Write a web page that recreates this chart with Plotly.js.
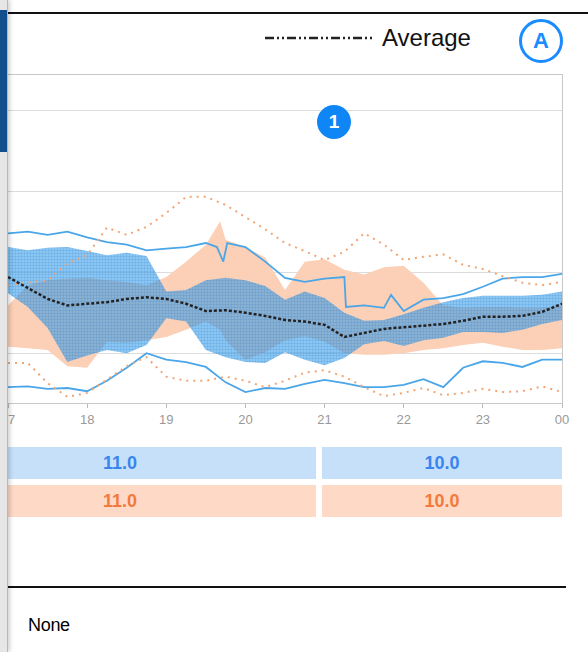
<!DOCTYPE html>
<html>
<head>
<meta charset="utf-8">
<script src="https://cdn.plot.ly/plotly-3.0.1.min.js"></script>
<style>
  html, body { margin: 0; padding: 0; background: #fff; }
  body { width: 588px; height: 652px; position: relative; overflow: hidden; font-family: "Liberation Sans", Arial, sans-serif; }
  #chart { position: absolute; left: 0; top: 0; width: 588px; height: 652px; }
  .side { position: absolute; left: 0; top: 0; width: 7px; height: 652px; background: #e6e6e6; border-right: 1px solid #b8b8b8; box-shadow: 2px 0 4px rgba(0,0,0,0.18); }
  .side-tab { position: absolute; left: 0; top: 10px; width: 7px; height: 142px; background: #11508c; }
  .topline { position: absolute; left: 8px; right: 0; top: 12px; height: 2px; background: #111; }
  .legend { position: absolute; left: 265px; top: 22px; height: 32px; display: flex; align-items: center; }
  .legend span { font-size: 24px; color: #111; margin-left: 7px; }
  .badge-a { position: absolute; left: 519px; top: 19px; width: 38px; height: 38px; border: 3px solid #1a8cff; border-radius: 50%; color: #1a8cff; font-weight: bold; font-size: 22px; text-align: center; line-height: 38px; }
  .badge-1 { position: absolute; left: 317px; top: 105px; width: 34px; height: 34px; border-radius: 50%; background: #0f86f5; color: #fff; font-weight: bold; font-size: 19px; text-align: center; line-height: 34px; }
  .cell { position: absolute; height: 32px; line-height: 32px; font-weight: bold; font-size: 18px; text-align: center; }
  .blue { background: #c6e0fa; color: #3a84ee; }
  .orange { background: #fdd9c6; color: #f27a3c; }
  .bottomline { position: absolute; left: 8px; width: 558px; top: 586px; height: 2px; background: #111; }
  .note { position: absolute; left: 28px; top: 615px; font-size: 18px; color: #000; letter-spacing: -0.3px; }
</style>
</head>
<body>
<div id="chart"></div>

<div class="topline"></div>
<div class="legend">
  <svg width="110" height="6"><line x1="0" y1="3" x2="110" y2="3" stroke="#222" stroke-width="2.5" stroke-dasharray="9,3,2,3,2,3"></line></svg>
  <span>Average</span>
</div>
<div class="badge-a">A</div>
<div class="badge-1">1</div>

<div class="cell blue" style="left:-76px; width:392px; top:447px;">11.0</div>
<div class="cell blue" style="left:322px; width:240px; top:447px;">10.0</div>
<div class="cell orange" style="left:-76px; width:392px; top:485px;">11.0</div>
<div class="cell orange" style="left:322px; width:240px; top:485px;">10.0</div>

<div class="bottomline"></div>
<div class="note">None</div>

<div class="side"></div>
<div class="side-tab"></div>

<script>
// hours of the day, 17:00 to 24:00
var hours = [17, 17.25, 17.5, 17.75, 18, 18.25, 18.5, 18.75, 19, 19.25, 19.5, 19.75, 20, 20.25, 20.5, 20.75, 21, 21.25, 21.5, 21.75, 22, 22.25, 22.5, 22.75, 23, 23.25, 23.5, 23.75, 24];
var tickHours = [17, 18, 19, 20, 21, 22, 23, 24];
var tickLabels = ['17', '18', '19', '20', '21', '22', '23', '00'];

var average = [9.5, 8.1, 6.8, 6.0, 6.2, 6.4, 6.8, 7.0, 6.8, 6.2, 5.3, 5.4, 5.1, 4.7, 4.2, 4.0, 3.6, 2.1, 2.6, 3.1, 3.3, 3.5, 3.7, 4.1, 4.6, 4.6, 4.7, 5.2, 6.2];

// blue range band
var blueUpper = [13.2, 12.8, 13.1, 13.2, 12.7, 12.2, 12.5, 12.1, 7.7, 7.9, 9.1, 9.4, 9.1, 8.4, 6.7, 7.7, 6.9, 5.1, 4.1, 4.2, 4.9, 5.7, 6.4, 6.9, 7.2, 7.2, 7.2, 7.3, 7.7];
var blueLower = [7.5, 5.8, 3.2, -1.0, -0.2, 0.5, 0.1, 1.1, 4.4, 4.0, 0.5, -0.4, -1.0, -1.1, 0.2, -0.7, -1.4, -0.5, 1.2, 1.6, 1.0, 1.7, 2.0, 2.7, 2.7, 2.6, 3.0, 3.7, 4.2];

// orange range band (one extra point for the peak)
var orangeHours = [17, 17.25, 17.5, 17.75, 18, 18.25, 18.5, 18.75, 19, 19.25, 19.5, 19.68, 19.75, 20, 20.25, 20.5, 20.75, 21, 21.25, 21.5, 21.75, 22, 22.25, 22.5, 22.75, 23, 23.25, 23.5, 23.75, 24];
var orangeUpper = [6.0, 8.5, 9.1, 9.3, 9.4, 9.1, 8.9, 8.5, 9.5, 11.4, 13.5, 16.4, 14.1, 13.2, 11.9, 7.9, 11.4, 11.7, 10.4, 9.8, 10.7, 10.9, 8.8, 6.0, 5.7, 5.8, 5.8, 5.7, 5.7, 6.0];
var orangeLower = [0.9, 0.7, 0.5, -1.5, -1.7, 1.5, 1.4, 1.7, 2.1, 3.0, 4.0, 3.0, 1.7, -0.7, 0.2, 1.7, 2.2, 1.5, 0.1, -0.1, -0.1, 0.1, 0.5, 0.7, 1.1, 1.4, 0.9, 0.5, 0.5, 0.7];

// blue max line
var maxHours = [17, 17.25, 17.5, 17.75, 18, 18.25, 18.5, 18.75, 19, 19.25, 19.5, 19.64, 19.72, 19.77, 20, 20.25, 20.5, 20.75, 21, 21.25, 21.27, 21.5, 21.75, 21.84, 22, 22.25, 22.5, 22.75, 23, 23.25, 23.5, 23.75, 24];
var blueMax = [14.9, 15.1, 14.7, 15.1, 14.4, 13.8, 13.5, 12.8, 13.0, 13.2, 13.7, 13.2, 11.4, 13.7, 13.2, 11.4, 9.4, 8.9, 9.3, 9.5, 5.8, 6.0, 5.7, 7.3, 5.3, 6.7, 6.9, 7.4, 8.3, 9.3, 9.5, 9.5, 9.9];
var blueMin = [-4.1, -4.0, -4.3, -4.2, -4.6, -3.3, -1.7, 0.1, -0.7, -1.0, -1.6, -3.5, -4.7, -4.2, -4.3, -3.7, -3.2, -3.6, -4.1, -4.1, -3.8, -3.1, -4.1, -1.7, -0.9, -1.1, -1.6, -0.7, -0.7];

// orange max / min (dotted)
var orangeMax = [8.5, 8.8, 9.1, 11.2, 12.2, 15.6, 14.7, 15.7, 17.4, 19.4, 19.4, 18.4, 16.9, 15.4, 13.7, 12.7, 11.6, 12.6, 14.9, 13.5, 11.6, 12.0, 12.3, 11.0, 10.5, 9.6, 8.8, 8.5, 8.9];
var orangeMin = [-1.1, -1.1, -3.6, -5.3, -4.8, -3.1, -1.5, -0.4, -2.8, -3.3, -3.3, -2.8, -3.3, -4.1, -3.3, -2.3, -2.0, -2.8, -4.1, -5.2, -4.8, -4.2, -5.1, -4.8, -4.3, -4.7, -4.6, -4.0, -4.7];

function band(x, upper, lower) {
    var xs = x.concat(x.slice().reverse());
    var ys = upper.concat(lower.slice().reverse());
    return {x: xs, y: ys};
}

var ob = band(orangeHours, orangeUpper, orangeLower);
var bb = band(hours, blueUpper, blueLower);

var data = [
    {x: ob.x, y: ob.y, mode: 'lines', fill: 'toself', fillcolor: '#fcd0b6', line: {width: 0}},
    {x: bb.x, y: bb.y, mode: 'lines', fill: 'toself', line: {width: 0},
        fillpattern: {shape: '.', size: 3, solidity: 0.5, bgcolor: 'rgba(40,160,240,0.5)', fgcolor: '#1f6cc4', fgopacity: 0.3}},
    {x: maxHours, y: blueMax, mode: 'lines', line: {color: '#4aa6e8', width: 1.8}},
    {x: hours, y: blueMin, mode: 'lines', line: {color: '#4aa6e8', width: 1.8}},
    {x: hours, y: orangeMax, mode: 'lines', line: {color: '#f2a574', width: 2, dash: '2px,5px'}},
    {x: hours, y: orangeMin, mode: 'lines', line: {color: '#f2a574', width: 2, dash: '2px,5px'}},
    {x: hours, y: average, mode: 'lines', line: {color: '#222', width: 2.5, dash: '3px,2px'}}
];

var layout = {
    width: 588,
    height: 652,
    margin: {l: 8, r: 26, t: 75, b: 249},
    paper_bgcolor: '#fff',
    plot_bgcolor: '#fff',
    showlegend: false,
    hovermode: false,
    xaxis: {
        range: [17, 24],
        tickvals: tickHours,
        ticktext: tickLabels,
        ticks: 'outside',
        ticklen: 4,
        tickcolor: '#bbb',
        showline: true,
        mirror: true,
        linecolor: '#c8c8c8',
        showgrid: false,
        zeroline: false,
        tickfont: {family: 'Liberation Sans, Arial, sans-serif', size: 13, color: '#999'}
    },
    yaxis: {
        range: [-6.05, 34.44],
        tick0: 0,
        dtick: 10,
        showticklabels: false,
        ticks: '',
        showgrid: true,
        gridcolor: '#dcdcdc',
        showline: true,
        mirror: true,
        linecolor: '#c8c8c8',
        zeroline: false
    }
};

Plotly.newPlot('chart', data, layout, {displayModeBar: false, staticPlot: true});
</script>
</body>
</html>
